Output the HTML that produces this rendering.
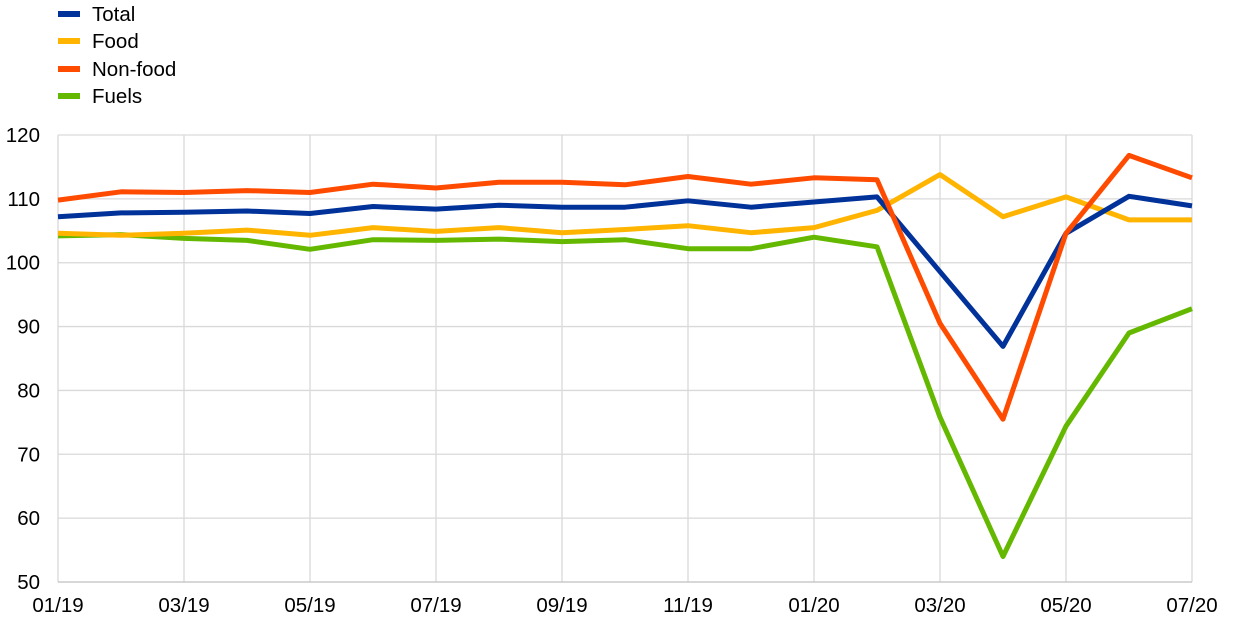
<!DOCTYPE html>
<html><head><meta charset="utf-8"><style>
html,body{margin:0;padding:0;background:#fff;}
svg{display:block;font-family:"Liberation Sans",Arial,sans-serif;}
</style></head><body>
<svg id="c" width="1240" height="628" viewBox="0 0 1240 628" xmlns="http://www.w3.org/2000/svg">
<g id="grid" stroke="#d9d9d9" stroke-width="1.3"></g>
<g id="lines" fill="none" stroke-width="5" stroke-linejoin="round"></g>
<g id="labels" font-size="20.5" fill="#000"></g>
<g font-size="20.5">
<line x1="58" y1="14" x2="80" y2="14" stroke="#003299" stroke-width="6"/><text x="92" y="21">Total</text>
<line x1="58" y1="41" x2="80" y2="41" stroke="#ffb400" stroke-width="6"/><text x="92" y="48">Food</text>
<line x1="58" y1="69" x2="80" y2="69" stroke="#ff4b00" stroke-width="6"/><text x="92" y="76">Non-food</text>
<line x1="58" y1="96" x2="80" y2="96" stroke="#65b800" stroke-width="6"/><text x="92" y="103">Fuels</text>
</g>
</svg>
<script>
var NS="http://www.w3.org/2000/svg";
function el(t,a,p){var e=document.createElementNS(NS,t);for(var k in a)e.setAttribute(k,a[k]);p.appendChild(e);return e;}
var x0=58,dx=63,yb=582,sc=447/70;
function X(i){return x0+i*dx;} function Y(v){return yb-(v-50)*sc;}
var g=document.getElementById('grid'),L=document.getElementById('labels'),ln=document.getElementById('lines');
for(var v=60;v<=120;v+=10){el('line',{x1:58,x2:1192,y1:Y(v),y2:Y(v)},g);}
for(var i=2;i<=18;i+=2){el('line',{x1:X(i),x2:X(i),y1:Y(120),y2:yb},g);}
el('line',{x1:58,x2:58,y1:Y(120),y2:yb},g);
el('line',{x1:58,x2:1192,y1:yb,y2:yb,stroke:'#bfbfbf'},g);
for(var v=50;v<=120;v+=10){var t=el('text',{x:40,y:Y(v)+7,'text-anchor':'end'},L);t.textContent=v;}
var labs=['01/19','03/19','05/19','07/19','09/19','11/19','01/20','03/20','05/20','07/20'];
labs.forEach(function(s,k){var t=el('text',{x:X(k*2),y:612,'text-anchor':'middle'},L);t.textContent=s;});
var D=[
['#65b800',[104.2,104.4,103.8,103.5,102.1,103.6,103.5,103.7,103.3,103.6,102.2,102.2,104,102.5,75.8,54,74.4,89,92.8]],
['#ffb400',[104.6,104.3,104.6,105.1,104.3,105.5,104.9,105.5,104.7,105.2,105.8,104.7,105.5,108.2,113.8,107.2,110.3,106.7,106.7]],
['#003299',[107.2,107.8,107.9,108.1,107.7,108.8,108.4,109,108.7,108.7,109.7,108.7,109.5,110.3,98.6,86.9,104.6,110.4,108.9]],
['#ff4b00',[109.8,111.1,111,111.3,111,112.3,111.7,112.6,112.6,112.2,113.5,112.3,113.3,113,90.5,75.5,104.6,116.8,113.3]]
];
D.forEach(function(s){el('polyline',{stroke:s[0],points:s[1].map(function(v,i){return X(i)+','+Y(v).toFixed(1);}).join(' ')},ln);});
</script>
</body></html>
